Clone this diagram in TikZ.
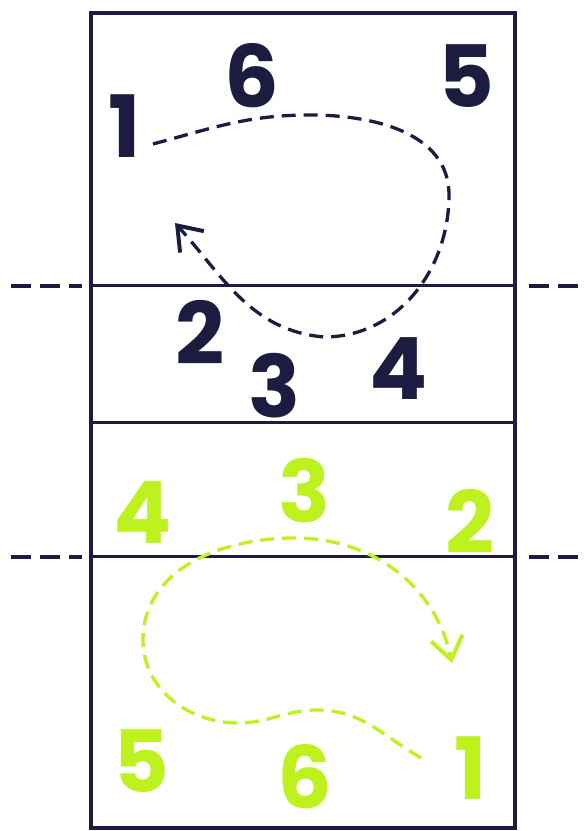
\documentclass[tikz,border=0pt]{standalone}
\usepackage{fontspec}
\setmainfont{Poppins}
\usetikzlibrary{arrows.meta}
\definecolor{navy}{RGB}{28,27,64}
\definecolor{lime}{RGB}{190,242,30}

\begin{document}
\begin{tikzpicture}[x=1pt, y=1pt,
  player/.style={inner sep=0pt, font=\fontsize{86}{86}\selectfont\bfseries},
  rotpath/.style={line width=3.3pt, dash pattern=on 14pt off 8pt},
  barb/.style={-{Straight Barb[length=22pt,width=32pt,line width=4pt]}},
  ext/.style={navy, line width=3.2pt, dash pattern=on 20pt off 9pt}]
\useasboundingbox (0,0) rectangle (584,831);
% ---------- court ----------
\draw[navy, line width=4.5pt] (91,3) rectangle (515,818);
\draw[navy, line width=3pt] (91,545) -- (515,545);
\draw[navy, line width=3pt] (91,408) -- (515,408);
\draw[navy, line width=3pt] (91,274) -- (515,274);
% attack lines carried outside the court
\draw[ext] (11,545) -- (82,545);
\draw[ext] (529,545) -- (584,545);
\draw[ext] (11,274) -- (82,274);
\draw[ext] (529,274) -- (584,274);
% ---------- navy team ----------
\node[player, navy] (a1) at (125,705) {1};
\node[player, navy] (a6) at (252,755) {6};
\node[player, navy] (a5) at (466,755) {5};
\node[player, navy] (a2) at (200,499) {2};
\node[player, navy] (a3) at (275,445) {3};
\node[player, navy] (a4) at (399,462) {4};
% rotation: loop from 1 round to the front
\coordinate (as) at (153,687);
\coordinate (atop) at (310,716);
\coordinate (aright) at (449,636);
\coordinate (alow) at (324,494);
\coordinate (aend) at (175,608);
\draw[navy, rotpath, barb] (as) to[out=15,in=180] (atop)
  to[out=0,in=90] (aright) to[out=-90,in=0] (alow)
  to[out=175,in=-48] (aend);
% ---------- lime team ----------
\node[player, lime] (b3) at (305,340) {3};
\node[player, lime] (b4) at (143,318) {4};
\node[player, lime] (b2) at (470,310) {2};
\node[player, lime] (b5) at (141,70) {5};
\node[player, lime] (b6) at (305,54) {6};
\node[player, lime] (b1) at (471,63) {1};
% rotation: wave from 1, round the back and over to the right
\coordinate (bs) at (421,73);
\coordinate (bhump) at (317,121);
\coordinate (bdip) at (238,108);
\coordinate (bleft) at (143,191);
\coordinate (btop) at (294,293);
\coordinate (bend) at (452,168);
\draw[lime, rotpath, barb] (bs) to[out=150,in=0] (bhump)
  to[out=180,in=0] (bdip) to[out=180,in=-90] (bleft)
  to[out=90,in=180] (btop) to[out=0,in=102] (bend);
\end{tikzpicture}
\end{document}
